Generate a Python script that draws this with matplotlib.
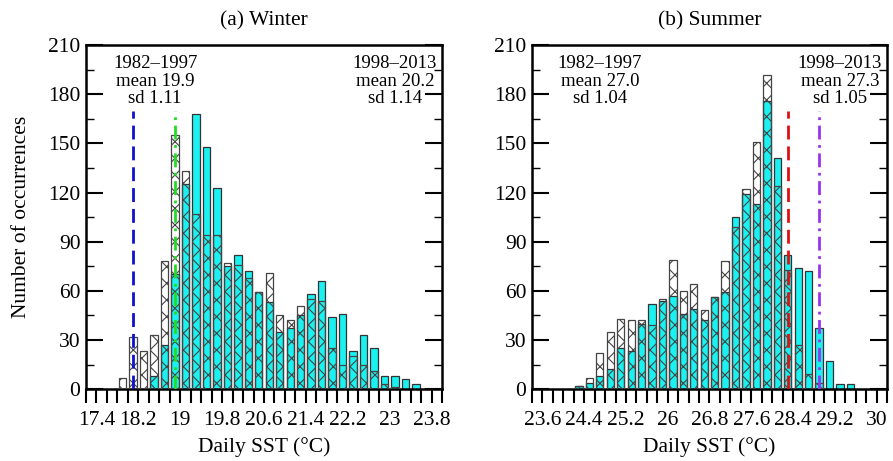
import matplotlib
matplotlib.use("Agg")
import matplotlib.pyplot as plt
import numpy as np
from matplotlib.ticker import MultipleLocator

plt.rcParams['font.family'] = ['Liberation Serif', 'DejaVu Serif']
plt.rcParams['hatch.linewidth'] = 0.8

# winter bins (centres, width 0.2)
winter_x = [17.9, 18.1, 18.3, 18.5, 18.7, 18.9, 19.1, 19.3, 19.5, 19.7,
            19.9, 20.1, 20.3, 20.5, 20.7, 20.9, 21.1, 21.3, 21.5, 21.7,
            21.9, 22.1, 22.3, 22.5, 22.7, 22.9, 23.1, 23.3, 23.5]
winter_p1 = [7, 32, 23, 33, 78, 155, 133, 107, 94, 94,
             77, 76, 68, 59, 71, 45, 42, 51, 55, 54,
             25, 15, 20, 15, 11, 3, 1, 0, 0]
winter_p2 = [0, 0, 0, 8, 27, 70, 125, 168, 148, 123,
             75, 82, 72, 59, 53, 35, 37, 45, 58, 66,
             44, 46, 23, 33, 25, 8, 8, 6, 3]

# summer bins
summer_x = [24.3, 24.5, 24.7, 24.9, 25.1, 25.3, 25.5, 25.7, 25.9, 26.1,
            26.3, 26.5, 26.7, 26.9, 27.1, 27.3, 27.5, 27.7, 27.9, 28.1,
            28.3, 28.5, 28.7, 28.9, 29.1, 29.3, 29.5]
summer_p1 = [2, 7, 22, 35, 43, 42, 42, 39, 55, 79,
             60, 64, 48, 56, 78, 99, 122, 151, 192, 124,
             73, 27, 9, 4, 0, 0, 0]
summer_p2 = [2, 4, 8, 12, 25, 23, 40, 52, 54, 57,
             46, 49, 42, 56, 59, 105, 119, 113, 176, 141,
             82, 74, 72, 37, 17, 3, 3]

winter_lines = [18.1, 18.9]
summer_lines = [28.3, 28.9]
winter_text = ["1982\u20131997\nmean 19.9\nsd 1.11", "1998\u20132013\nmean 20.2\nsd 1.14"]
summer_text = ["1982\u20131997\nmean 27.0\nsd 1.04", "1998\u20132013\nmean 27.3\nsd 1.05"]

cyan = '#1BF1F0'

fig = plt.figure(figsize=(8.93, 4.61), dpi=100)
ax1 = fig.add_axes([0.0963, 0.156, 0.3987, 0.746])
ax2 = fig.add_axes([0.5957, 0.156, 0.3976, 0.746])


def draw_panel(ax, x, p1, p2, lines, lcols, lstyles, texts, tpos, xlim, xticks, title):
    ax.bar(x, p2, width=0.14, color=cyan, edgecolor='#333333', linewidth=0.9, zorder=2)
    ax.bar(x, p1, width=0.14, facecolor='none', edgecolor='#444444', hatch='xx',
           linewidth=0.9, zorder=3)
    for xv, c, ls in zip(lines, lcols, lstyles):
        ax.plot([xv, xv], [0, 170], color=c, linestyle=ls, linewidth=2.0, zorder=4)
    for t, xp in zip(texts, tpos):
        ax.text(xp, 204, t, ha='center', va='top', fontsize=13.5, linespacing=1.05)
    ax.set_xlim(*xlim)
    ax.set_ylim(0, 210)
    ax.set_xticks(xticks)
    ax.set_xticklabels([f"{v:g}" for v in xticks])
    ax.xaxis.set_minor_locator(MultipleLocator(0.2))
    ax.yaxis.set_major_locator(MultipleLocator(30))
    ax.yaxis.set_minor_locator(MultipleLocator(15))
    ax.tick_params(axis='x', which='both', direction='out', length=10, width=1.5,
                   labelsize=15.5, pad=6, top=False)
    ax.tick_params(axis='y', which='major', direction='in', length=12, width=1.5,
                   labelsize=15.5, right=True, pad=4)
    ax.tick_params(axis='y', which='minor', direction='in', length=6, width=1.0, right=True)
    for s in ax.spines.values():
        s.set_linewidth(1.8)
    ax.set_xlabel("Daily SST (\u00b0C)", fontsize=15.5, labelpad=5)
    ax.set_title(title, fontsize=15.5, pad=14)


draw_panel(ax1, winter_x, winter_p1, winter_p2, winter_lines,
           ['#1010D0', '#22DD22'], [(0, (5, 2.5)), (0, (5, 2, 1, 2))],
           winter_text, [18.52, 23.1], (17.2, 24.0),
           [17.4, 18.2, 19.0, 19.8, 20.6, 21.4, 22.2, 23.0, 23.8], "(a) Winter")
draw_panel(ax2, summer_x, summer_p1, summer_p2, summer_lines,
           ['#E01010', '#9933EE'], [(0, (5, 2.5)), (0, (5, 2, 1, 2))],
           summer_text, [24.7, 29.3], (23.4, 30.2),
           [23.6, 24.4, 25.2, 26.0, 26.8, 27.6, 28.4, 29.2, 30.0], "(b) Summer")
ax1.set_ylabel("Number of occurrences", fontsize=15.5, labelpad=12)

fig.savefig("out.png", dpi=100)
